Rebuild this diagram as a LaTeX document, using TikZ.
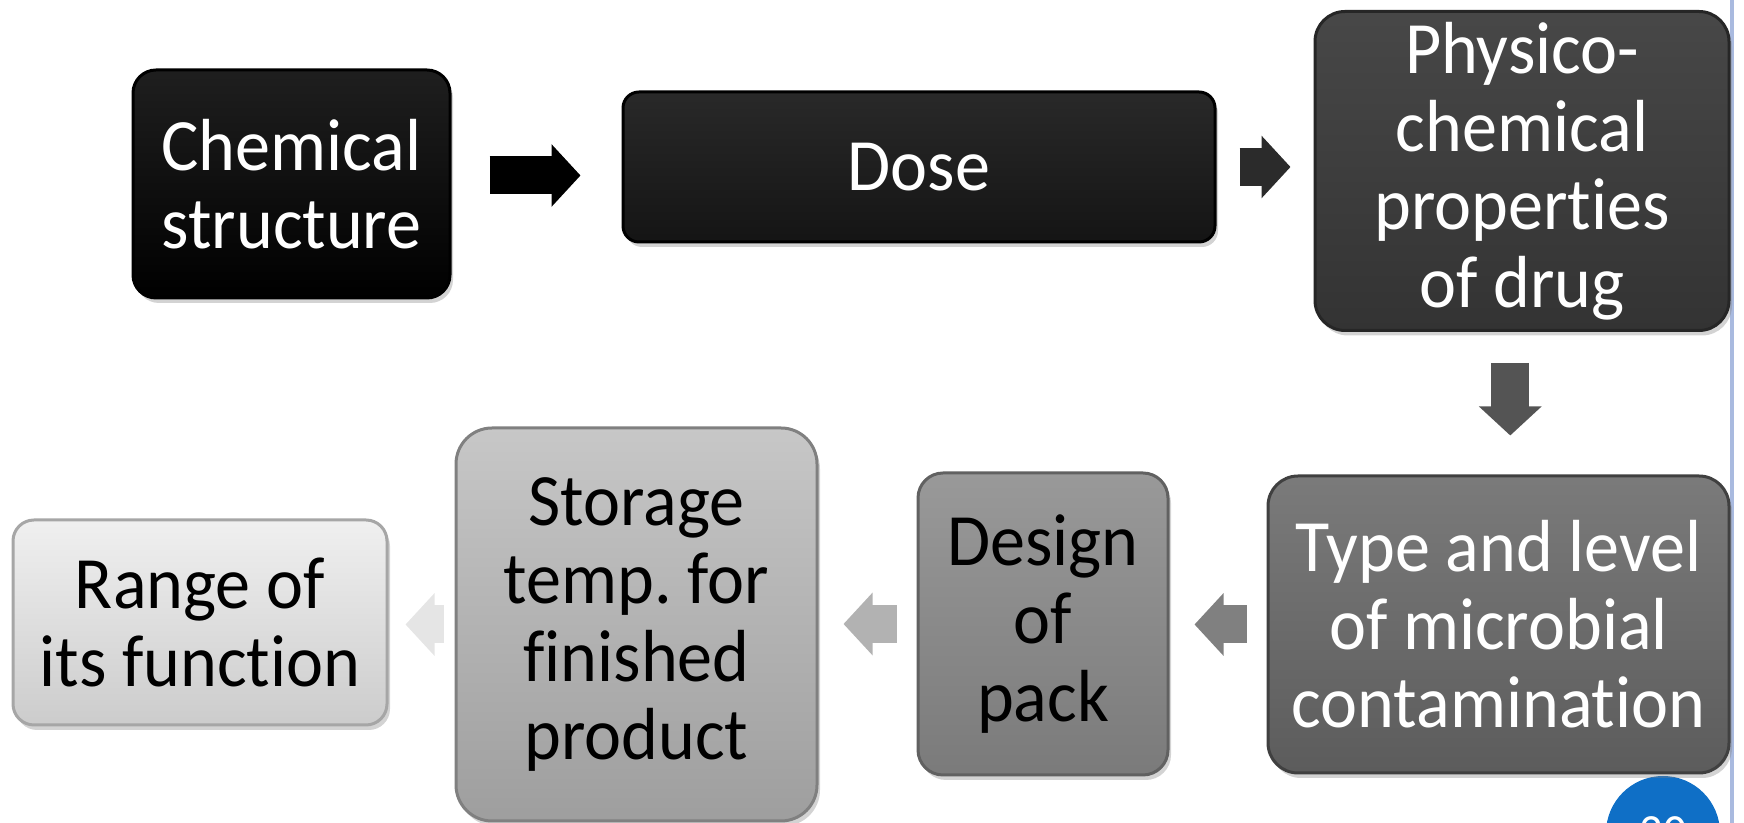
\documentclass[tikz,border=0pt]{standalone}
\usepackage{fontspec}
\setmainfont[FakeStretch=0.95, Ligatures=NoCommon]{Carlito}
\usetikzlibrary{arrows.meta, shadows, calc}

\definecolor{slideblue}{HTML}{0F6FC6}
\definecolor{railblue}{HTML}{A9BADF}
\frenchspacing

\begin{document}
\begin{tikzpicture}[x=0.1mm, y=-0.1mm,
  stage/.style={rectangle, line width=0.3mm, align=center, inner sep=0pt,
    font=\fontsize{21pt}{22.2pt}\selectfont,
    drop shadow={shadow xshift=0.3mm, shadow yshift=-0.5mm, opacity=0.35}},
  flow/.style={draw=#1, line width=3.8mm, -{Triangle[width=6.1mm, length=2.9mm]}}]
  \useasboundingbox (0,0) rectangle (1744,823);

  % slide furniture
  \draw[railblue, line width=0.4mm] (1732,0) -- (1732,823);
  \node[circle, fill=slideblue, minimum size=11.4mm, inner sep=0pt,
    text=white, font=\fontsize{14pt}{14pt}\selectfont] (slide) at (1663,833) {20};

  % top row
  \node[stage, minimum width=31.7mm, minimum height=22.8mm, rounded corners=2.3mm,
    draw=black, top color=black!88, bottom color=black, text=white] (chem)
    at (291.5,184) {Chemical\\structure};
  \node[stage, minimum width=59.2mm, minimum height=15mm, rounded corners=1.6mm,
    draw=black, top color=black!84, bottom color=black!92, text=white] (dose)
    at (919,167) {Dose};
  \node[stage, minimum width=41.4mm, minimum height=31.9mm, rounded corners=3mm,
    draw=black!85, top color=black!72, bottom color=black!80, text=white] (phys)
    at (1522,171) {Physico-\\chemical\\properties\\of drug};

  % bottom row
  \node[stage, minimum width=46.1mm, minimum height=29.7mm, rounded corners=3mm,
    draw=black!75, top color=black!52, bottom color=black!64, text=white] (type)
    at (1498.5,624.5) {Type and level\\of microbial\\contamination};
  \node[stage, minimum width=25mm, minimum height=30.2mm, rounded corners=2.5mm,
    draw=black!62, top color=black!40, bottom color=black!52, text=black] (design)
    at (1043,624) {Design\\of\\pack};
  \node[stage, minimum width=36.1mm, minimum height=39.3mm, rounded corners=3.6mm,
    draw=black!50, top color=black!22, bottom color=black!38, text=black] (storage)
    at (636.5,624.5) {Storage\\temp. for\\finished\\product};
  \node[stage, minimum width=37.4mm, minimum height=20.5mm, rounded corners=2.1mm,
    draw=black!35, top color=black!6, bottom color=black!20, text=black] (range)
    at (200,622.5) {Range of\\its function};

  % block arrows
  \coordinate (m1) at ($(chem.east)!.5!(dose.west)$);
  \coordinate (m2) at ($(phys.south)!.5!(type.north)$);
  \draw[flow=black, shorten <=3.8mm, shorten >=4.1mm] (chem.east |- m1) -- (dose.west |- m1);
  \draw[flow=black!83, shorten <=2.3mm, shorten >=2.3mm] (dose.east) -- (dose.east -| phys.west);
  \draw[flow=black!67, shorten <=3.1mm, shorten >=3.9mm] (phys.south -| m2) -- (type.north -| m2);
  \draw[flow=black!50, shorten <=2mm, shorten >=2.5mm] (type.west) -- (type.west -| design.east);
  \draw[flow=black!30, shorten <=2mm, shorten >=2.5mm] (design.west) -- (design.west -| storage.east);
  \draw[flow=black!10, shorten <=1.1mm, shorten >=1.7mm] (storage.west) -- (storage.west -| range.east);
\end{tikzpicture}
\end{document}
